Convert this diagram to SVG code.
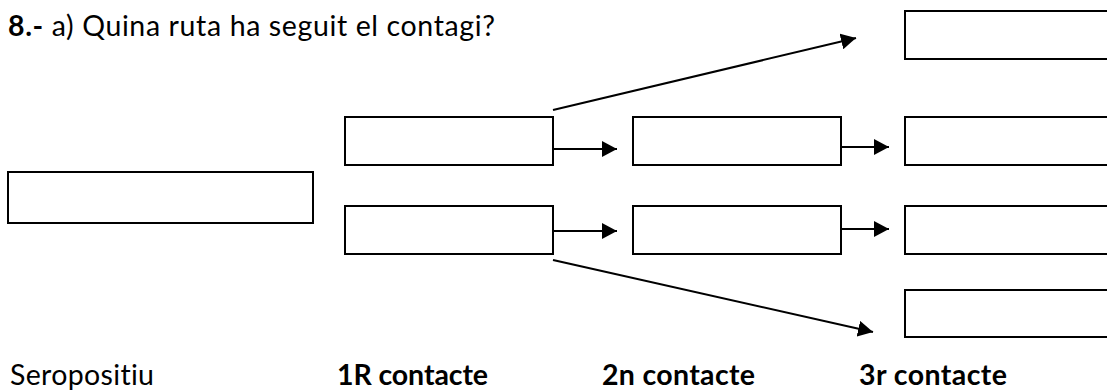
<svg xmlns="http://www.w3.org/2000/svg" width="1107" height="391" viewBox="0 0 1107 391">
  <style>
    .box { fill: #ffffff; stroke: #000000; stroke-width: 2; }
    .conn { stroke: #000000; stroke-width: 2; fill: none; marker-end: url(#arrow); }
    .txt { font-family: Lato, "Open Sans", "Liberation Sans", sans-serif; font-size: 28.5px; fill: #000000; font-variant-ligatures: none; }
    .b { font-weight: bold; }
  </style>
  <defs>
    <marker id="arrow" markerUnits="userSpaceOnUse" markerWidth="16" markerHeight="16" refX="15" refY="8" orient="auto">
      <path d="M0,0 L15,8 L0,16 Z" fill="#000000"/>
    </marker>
  </defs>
  <rect width="1107" height="391" fill="#ffffff"/>

  <text class="txt" x="8" y="36" textLength="487"><tspan class="b">8.-</tspan> a) Quina ruta ha seguit el contagi?</text>

  <g id="seropositiu">
    <rect class="box" x="8" y="172" width="305" height="51"/>
  </g>
  <g id="c1-top">
    <rect class="box" x="345" y="117" width="208" height="48"/>
  </g>
  <g id="c1-bottom">
    <rect class="box" x="345" y="206" width="208" height="48"/>
  </g>
  <g id="c2-top">
    <rect class="box" x="633" y="117" width="208" height="48"/>
  </g>
  <g id="c2-bottom">
    <rect class="box" x="633" y="206" width="208" height="48"/>
  </g>
  <g id="c3-1">
    <rect class="box" x="905" y="11" width="230" height="48"/>
  </g>
  <g id="c3-2">
    <rect class="box" x="905" y="117" width="230" height="48"/>
  </g>
  <g id="c3-3">
    <rect class="box" x="905" y="206" width="230" height="48"/>
  </g>
  <g id="c3-4">
    <rect class="box" x="905" y="290" width="230" height="47"/>
  </g>

  <g id="connectors">
    <line class="conn" x1="553" y1="110" x2="856" y2="38"/>
    <line class="conn" x1="553" y1="149" x2="617" y2="149"/>
    <line class="conn" x1="841" y1="147" x2="889" y2="147"/>
    <line class="conn" x1="553" y1="231" x2="617" y2="231"/>
    <line class="conn" x1="841" y1="229" x2="889" y2="229"/>
    <line class="conn" x1="553" y1="260" x2="873" y2="332"/>
  </g>

  <text class="txt" x="10" y="385" textLength="144">Seropositiu</text>
  <text class="txt b" x="337" y="385" textLength="151">1R contacte</text>
  <text class="txt b" x="602" y="385" textLength="153">2n contacte</text>
  <text class="txt b" x="859" y="385" textLength="148">3r contacte</text>
</svg>
